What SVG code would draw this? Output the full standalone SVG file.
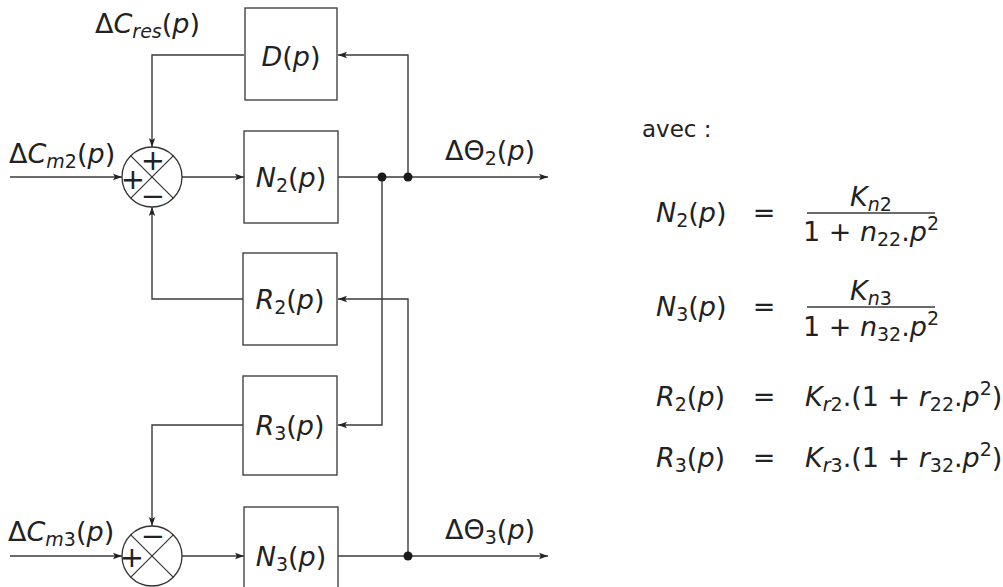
<svg xmlns="http://www.w3.org/2000/svg" width="1003" height="587" viewBox="0 0 1003 587">
<defs>
<style>
.box{fill:#fff;stroke:#444;stroke-width:1.4}
.ln{fill:none;stroke:#3a3a3a;stroke-width:1.4}
.arr{fill:none;stroke:#3a3a3a;stroke-width:1.4;marker-end:url(#ah)}
.dot{fill:#1a1a1a}
.sum{fill:#fff;stroke:#333;stroke-width:1.3}
.x{stroke:#333;stroke-width:1.2}
text{font-family:"DejaVu Sans","Liberation Sans",sans-serif;font-size:27px;fill:#222}
.i{font-style:italic}
.s{font-size:19px}
.sg{font-size:29px;text-anchor:middle}
.c{text-anchor:middle}
.av{font-size:23px}
</style>
<marker id="ah" markerUnits="userSpaceOnUse" markerWidth="10" markerHeight="8" refX="9" refY="4" orient="auto">
<path d="M0,0.8 L9,4 L0,7.2 L2,4 Z" fill="#222"/>
</marker>
</defs>

<g id="connectors">
<line class="arr" x1="10" y1="177" x2="122" y2="177"/>
<line class="arr" x1="182" y1="177" x2="244" y2="177"/>
<line class="arr" x1="338" y1="177" x2="548" y2="177"/>
<polyline class="arr" points="408,177 408,55 338,55"/>
<polyline class="arr" points="244,55 152,55 152,147"/>
<polyline class="arr" points="382,177 382,425 338,425"/>
<polyline class="arr" points="408,556 408,299 338,299"/>
<polyline class="arr" points="244,299 152,299 152,207"/>
<polyline class="arr" points="244,425 152,425 152,526"/>
<line class="arr" x1="10" y1="556" x2="122" y2="556"/>
<line class="arr" x1="182" y1="556" x2="244" y2="556"/>
<line class="arr" x1="338" y1="556" x2="548" y2="556"/>
<circle class="dot" cx="382" cy="177" r="4.5"/>
<circle class="dot" cx="408" cy="177" r="4.5"/>
<circle class="dot" cx="408" cy="556" r="4.5"/>
</g>

<g id="sum1">
<circle class="sum" cx="152" cy="177" r="30"/>
<line class="x" x1="130.8" y1="155.8" x2="173.2" y2="198.2"/>
<line class="x" x1="173.2" y1="155.8" x2="130.8" y2="198.2"/>
<text class="sg" x="153" y="170">+</text>
<text class="sg" x="133" y="189">+</text>
<text class="sg" x="153" y="206">−</text>
</g>

<g id="sum2">
<circle class="sum" cx="152" cy="556" r="30"/>
<line class="x" x1="130.8" y1="534.8" x2="173.2" y2="577.2"/>
<line class="x" x1="173.2" y1="534.8" x2="130.8" y2="577.2"/>
<text class="sg" x="153" y="546">−</text>
<text class="sg" x="132" y="567">+</text>
</g>

<g id="D">
<rect class="box" x="245" y="8" width="92" height="92"/>
<text class="c" x="291" y="66"><tspan class="i">D</tspan>(<tspan class="i">p</tspan>)</text>
</g>
<g id="N2">
<rect class="box" x="244" y="131" width="94" height="92"/>
<text class="c" x="291" y="187"><tspan class="i">N</tspan><tspan class="s" dy="5">2</tspan><tspan dy="-5">(</tspan><tspan class="i">p</tspan>)</text>
</g>
<g id="R2">
<rect class="box" x="243" y="253" width="94" height="92"/>
<text class="c" x="290" y="309"><tspan class="i">R</tspan><tspan class="s" dy="5">2</tspan><tspan dy="-5">(</tspan><tspan class="i">p</tspan>)</text>
</g>
<g id="R3">
<rect class="box" x="243" y="376" width="94" height="99"/>
<text class="c" x="290" y="435"><tspan class="i">R</tspan><tspan class="s" dy="5">3</tspan><tspan dy="-5">(</tspan><tspan class="i">p</tspan>)</text>
</g>
<g id="N3">
<rect class="box" x="244" y="507" width="94" height="100"/>
<text class="c" x="291" y="566"><tspan class="i">N</tspan><tspan class="s" dy="5">3</tspan><tspan dy="-5">(</tspan><tspan class="i">p</tspan>)</text>
</g>

<g id="labels">
<text x="9" y="163">Δ<tspan class="i">C</tspan><tspan class="s i" dy="5">m</tspan><tspan class="s">2</tspan><tspan dy="-5">(</tspan><tspan class="i">p</tspan>)</text>
<text x="95" y="33">Δ<tspan class="i">C</tspan><tspan class="s i" dy="5">res</tspan><tspan dy="-5">(</tspan><tspan class="i">p</tspan>)</text>
<text x="445" y="160">ΔΘ<tspan class="s" dy="5">2</tspan><tspan dy="-5">(</tspan><tspan class="i">p</tspan>)</text>
<text x="8" y="541">Δ<tspan class="i">C</tspan><tspan class="s i" dy="5">m</tspan><tspan class="s">3</tspan><tspan dy="-5">(</tspan><tspan class="i">p</tspan>)</text>
<text x="445" y="539">ΔΘ<tspan class="s" dy="5">3</tspan><tspan dy="-5">(</tspan><tspan class="i">p</tspan>)</text>
</g>

<g id="equations">
<text class="av" x="642" y="137">avec :</text>

<text x="656" y="222"><tspan class="i">N</tspan><tspan class="s" dy="5">2</tspan><tspan dy="-5">(</tspan><tspan class="i">p</tspan>)</text>
<text class="c" x="764" y="222">=</text>
<line class="ln" x1="807" y1="213" x2="935" y2="213"/>
<text class="c" x="871" y="206"><tspan class="i">K</tspan><tspan class="s i" dy="5">n</tspan><tspan class="s">2</tspan></text>
<text class="c" x="871" y="241">1 + <tspan class="i">n</tspan><tspan class="s" dy="5">22</tspan><tspan dy="-5">.</tspan><tspan class="i">p</tspan><tspan class="s" dy="-11">2</tspan></text>

<text x="656" y="316"><tspan class="i">N</tspan><tspan class="s" dy="5">3</tspan><tspan dy="-5">(</tspan><tspan class="i">p</tspan>)</text>
<text class="c" x="764" y="316">=</text>
<line class="ln" x1="807" y1="307" x2="935" y2="307"/>
<text class="c" x="871" y="300"><tspan class="i">K</tspan><tspan class="s i" dy="5">n</tspan><tspan class="s">3</tspan></text>
<text class="c" x="871" y="336">1 + <tspan class="i">n</tspan><tspan class="s" dy="5">32</tspan><tspan dy="-5">.</tspan><tspan class="i">p</tspan><tspan class="s" dy="-11">2</tspan></text>

<text x="656" y="406"><tspan class="i">R</tspan><tspan class="s" dy="5">2</tspan><tspan dy="-5">(</tspan><tspan class="i">p</tspan>)</text>
<text class="c" x="764" y="406">=</text>
<text x="805" y="406"><tspan class="i">K</tspan><tspan class="s i" dy="5">r</tspan><tspan class="s">2</tspan><tspan dy="-5">.(1 + </tspan><tspan class="i">r</tspan><tspan class="s" dy="5">22</tspan><tspan dy="-5">.</tspan><tspan class="i">p</tspan><tspan class="s" dy="-11">2</tspan><tspan dy="11">)</tspan></text>

<text x="656" y="467"><tspan class="i">R</tspan><tspan class="s" dy="5">3</tspan><tspan dy="-5">(</tspan><tspan class="i">p</tspan>)</text>
<text class="c" x="764" y="467">=</text>
<text x="805" y="467"><tspan class="i">K</tspan><tspan class="s i" dy="5">r</tspan><tspan class="s">3</tspan><tspan dy="-5">.(1 + </tspan><tspan class="i">r</tspan><tspan class="s" dy="5">32</tspan><tspan dy="-5">.</tspan><tspan class="i">p</tspan><tspan class="s" dy="-11">2</tspan><tspan dy="11">)</tspan></text>
</g>
</svg>
